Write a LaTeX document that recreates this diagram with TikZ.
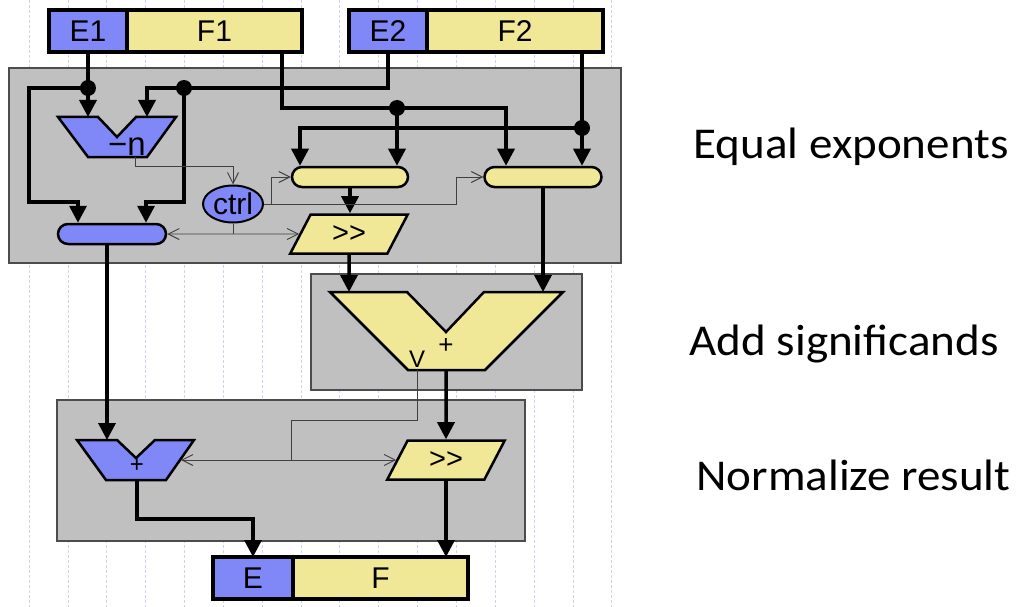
\documentclass[tikz,border=0pt]{standalone}
\usepackage{fontspec}
\setmainfont{Liberation Sans}
\newfontfamily\notefont{Carlito}
\usetikzlibrary{arrows.meta,shapes.geometric}

\definecolor{expblue}{RGB}{128,136,248}
\definecolor{sigyellow}{RGB}{240,232,150}
\definecolor{panelgray}{RGB}{192,192,192}
\definecolor{gridblue}{RGB}{205,210,245}

\newcommand{\widetext}[1]{\scalebox{1.07}[1]{#1}}

\tikzset{
  bus/.style={line width=3.5pt},
  busarrow/.style={bus,-{Triangle[length=17pt,width=17pt]}},
  ctlwire/.style={line width=0.9pt,draw=black!75},
  ctlarrow/.style={ctlwire,-{Straight Barb[length=11pt,width=11pt]}},
  ctlboth/.style={ctlwire,{Straight Barb[length=11pt,width=11pt]}-{Straight Barb[length=11pt,width=11pt]}},
  unit/.style={draw,line width=2.5pt},
  panel/.style={fill=panelgray,draw=black!70,line width=1.2pt},
  reg/.style={draw,line width=3.5pt,minimum height=42pt,inner sep=0pt,outer sep=0pt,font=\fontsize{30}{30}\selectfont},
  pill/.style={draw,line width=2.5pt,rounded corners=10pt,minimum height=20pt,inner sep=0pt},
  shifter/.style={draw,line width=2.5pt,fill=sigyellow,trapezium,trapezium left angle=62,trapezium right angle=118,trapezium stretches=true,minimum height=39pt,minimum width=118pt,inner sep=0pt,font=\fontsize{29}{29}\selectfont},
  tap/.style={circle,fill=black,inner sep=0pt,minimum size=16pt},
  note/.style={anchor=base west,font=\notefont\fontsize{44}{44}\selectfont},
}

\begin{document}
\begin{tikzpicture}[x=1pt,y=-1pt]
\useasboundingbox (0,0) rectangle (1017,607);

% slide grid
\foreach \k in {0,...,15}
  \draw[gridblue,dash pattern=on 3pt off 2pt,line width=0.7pt] ({29+38.85*\k},0) -- ({29+38.85*\k},607);

% stages
\draw[panel] (9,68) rectangle (621,263);
\draw[panel] (311,274) rectangle (582,390);
\draw[panel] (57,400) rectangle (525,541);

% registers
\node[reg,fill=expblue,minimum width=78pt] (E1) at (88,31) {E1};
\node[reg,fill=sigyellow,minimum width=175pt,anchor=west] (F1) at (E1.east) {F1};
\node[reg,fill=expblue,minimum width=78pt] (E2) at (388,31) {E2};
\node[reg,fill=sigyellow,minimum width=176pt,anchor=west] (F2) at (E2.east) {F2};
\node[reg,fill=expblue,minimum width=80pt] (E) at (253,578) {E};
\node[reg,fill=sigyellow,minimum width=175pt,anchor=west] (F) at (E.east) {F};

% adders
\draw[unit,fill=expblue] (58,117) -- (98,117) -- (117,137) -- (136,117) -- (176,117) -- (147,157) -- (88,157) -- cycle;
\node[anchor=base,font=\fontsize{33}{33}\selectfont] (subl) at (127,155) {−n};
\draw[unit,fill=sigyellow] (330,292) -- (407,292) -- (446,332) -- (484,292) -- (563,292) -- (485,370) -- (408,370) -- cycle;
\node[anchor=base,font=\fontsize{24}{24}\selectfont] (addv) at (417,367) {V};
\node[font=\fontsize{26}{26}\selectfont] (addl) at (446,346) {+};
\draw[unit,fill=expblue] (77,440) -- (117,440) -- (136,458) -- (155,440) -- (194,440) -- (166,480) -- (106,480) -- cycle;
\node[font=\fontsize{24}{24}\selectfont] (naddl) at (137,466) {+};

% selectors, control, shifters
\node[pill,fill=expblue,minimum width=108pt] (mux) at (112,234) {};
\node[pill,fill=sigyellow,minimum width=116pt] (lsel) at (350,177) {};
\node[pill,fill=sigyellow,minimum width=117pt] (rsel) at (543,177) {};
\node[draw,ellipse,line width=2pt,fill=expblue,minimum width=60pt,minimum height=37pt,inner sep=0pt,font=\fontsize{30}{30}\selectfont] (ctrl) at (233,204) {ctrl};
\node[shifter] (shr1) at (349,234) {{>}{>}};
\node[shifter] (shr2) at (446,460) {{>}{>}};

% data buses
\draw[busarrow] (E1.south) -- (88,117);
\draw[busarrow] (88,88) -| (29,202) -- (78,202) -- (78,0 |- mux.north);
\draw[busarrow] (E2.south) |- (147,88) -- (147,117);
\draw[busarrow] (184,88) -- (184,202) -| (146,0 |- mux.north);
\draw[busarrow] (282,0 |- F1.south) |- (506,108) -- (506,0 |- rsel.north);
\draw[busarrow] (397,108) -- (397,0 |- lsel.north);
\draw[busarrow] (582,0 |- F2.south) -- (582,0 |- rsel.north);
\draw[busarrow] (582,128) -| (300,0 |- lsel.north);
\draw[busarrow] (lsel.south) -- (lsel.south |- shr1.north);
\draw[busarrow] (shr1.south) -- (349,292);
\draw[busarrow] (rsel.south) -- (543,292);
\draw[busarrow] (107,0 |- mux.south) -- (107,440);
\draw[busarrow] (446,370) -- (shr2.north);
\draw[busarrow] (137,480) |- (253,519) -- (E.north);
\draw[busarrow] (shr2.south) -- (shr2.south |- F.north);

% taps
\foreach \n/\x/\y in {t1/88/88, t2/184/88, t3/397/108, t4/582/128}
  \node[tap] (\n) at (\x,\y) {};

% control lines
\draw[ctlarrow] (135,157) -- (135,166) -| (ctrl.north);
\draw[ctlarrow] (ctrl.east) -- (271,204) |- (lsel.west);
\draw[ctlarrow] (271,204) -- (456,204) |- (rsel.west);
\draw[ctlboth] (mux.east) -- (shr1.west);
\draw[ctlwire] (ctrl.south) -- (ctrl.south |- mux.east);
\draw[ctlwire] (417,370) |- (291,420) -- (291,0 |- shr2.west);
\draw[ctlboth] (181,0 |- shr2.west) -- (shr2.west);

% stage names
\node[note] (lab1) at (690,158) {\widetext{Equal exponents}};
\node[note] (lab2) at (686,355) {\widetext{Add significands}};
\node[note] (lab3) at (693,490) {\widetext{Normalize result}};
\end{tikzpicture}
\end{document}
